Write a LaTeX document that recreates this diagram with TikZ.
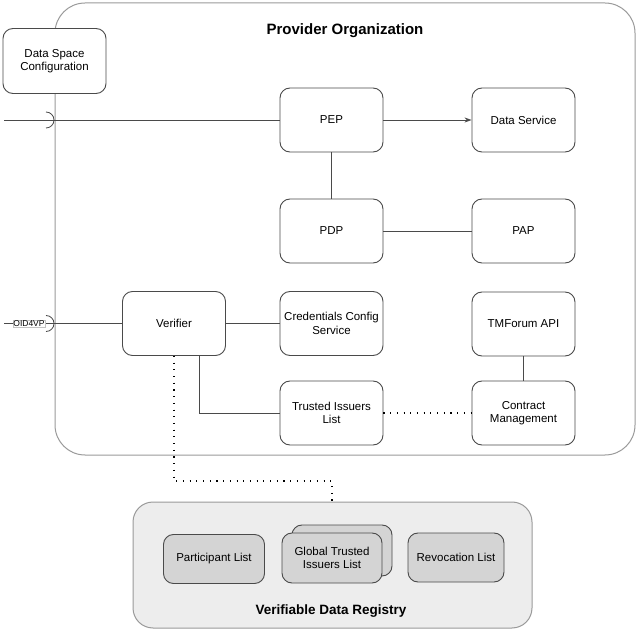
\documentclass[tikz,border=0pt]{standalone}
\usepackage{fontspec}
\setmainfont{Liberation Sans}
\usetikzlibrary{arrows.meta}
\definecolor{boxline}{HTML}{4A4A4A}
\definecolor{contline}{HTML}{9A9A9A}
\definecolor{regfill}{HTML}{EDEDED}
\definecolor{itemfill}{HTML}{D4D4D4}
\tikzset{
  comp/.style={draw=boxline, line width=0.9pt, rounded corners=10pt, fill=white,
    minimum width=103pt, minimum height=64pt, align=center, inner sep=1pt,
    font=\fontsize{11.5}{13.5}\selectfont},
  regitem/.style={comp, fill=itemfill, minimum width=101pt, minimum height=49pt},
  conn/.style={draw=boxline, line width=0.8pt},
  dotconn/.style={draw=black, line width=1.1pt, dash pattern=on 1.1pt off 5.6pt},
  container/.style={draw=contline, line width=1pt},
}
\begin{document}
\begin{tikzpicture}[x=1pt,y=-1pt]
\useasboundingbox (0,0) rectangle (638,631);
% containers
\draw[container, rounded corners=30pt, fill=white] (55,3) rectangle (635,455);
\node[font=\bfseries\fontsize{15}{17}\selectfont] (provtitle) at (345,31) {Provider Organization};
\draw[container, rounded corners=20pt, fill=regfill] (133,502) rectangle (532,628);
\node[font=\bfseries\fontsize{13.5}{15}\selectfont] (regtitle) at (331,611) {Verifiable Data Registry};

% provider components
\node[comp, minimum width=103pt, minimum height=65pt] (dsc) at (54.5,61) {Data Space\\Configuration};
\node[comp] (pep) at (331.5,120) {PEP};
\node[comp] (ds) at (523.5,120) {Data Service};
\node[comp] (pdp) at (331.5,231) {PDP};
\node[comp] (pap) at (523.5,231) {PAP};
\node[comp] (ver) at (174,323.5) {Verifier};
\node[comp] (ccs) at (331.5,323.5) {Credentials Config\\Service};
\node[comp] (tmf) at (523.5,324) {TMForum API};
\node[comp] (til) at (331.5,413) {Trusted Issuers\\List};
\node[comp] (cm) at (523.5,413) {Contract\\Management};

% registry items
\node[regitem] (pl) at (214,559) {Participant List};
\node[regitem, minimum width=100pt, minimum height=51pt] (gtback) at (342,550.5) {};
\node[regitem, minimum width=100pt, minimum height=50pt] (gt) at (332,558) {Global Trusted\\Issuers List};
\node[regitem, minimum width=96pt, minimum height=49pt] (rl) at (456,557.5) {Revocation List};

% external interfaces
\coordinate (inA) at (4,120);
\coordinate (sockA) at (46,120);
\draw[conn] (inA) -- (pep.west);
\draw[conn] (46,112) arc[start angle=90, end angle=-90, radius=8pt];
\coordinate (inB) at (4,323.5);
\coordinate (sockB) at (46,323.5);
\draw[conn] (inB) -- (ver.west);
\draw[conn] (46,315.5) arc[start angle=90, end angle=-90, radius=8pt];
\node[draw=contline!60, line width=0.4pt, fill=white, inner sep=0.6pt,
  font=\fontsize{8.5}{9}\selectfont] (oid) at (29,323.5) {OID4VP};

% connectors
\draw[conn, -{Stealth[length=7pt,width=5pt]}] (pep.east) -- (ds.west);
\draw[conn] (pep.south) -- (pdp.north);
\draw[conn] (pdp.east) -- (pap.west);
\draw[conn] (ver.east) -- (ccs.west);
\coordinate (verdrop) at (199,356);
\draw[conn] (verdrop) |- (til.west);
\draw[conn] (tmf.south) -- (cm.north);
\draw[dotconn] (til.east) -- (cm.west);
\coordinate (dotcorner1) at (174,481);
\coordinate (dotcorner2) at (332,481);
\draw[dotconn] (ver.south) -- (dotcorner1) -- (dotcorner2) -- (332,502);
\end{tikzpicture}
\end{document}
